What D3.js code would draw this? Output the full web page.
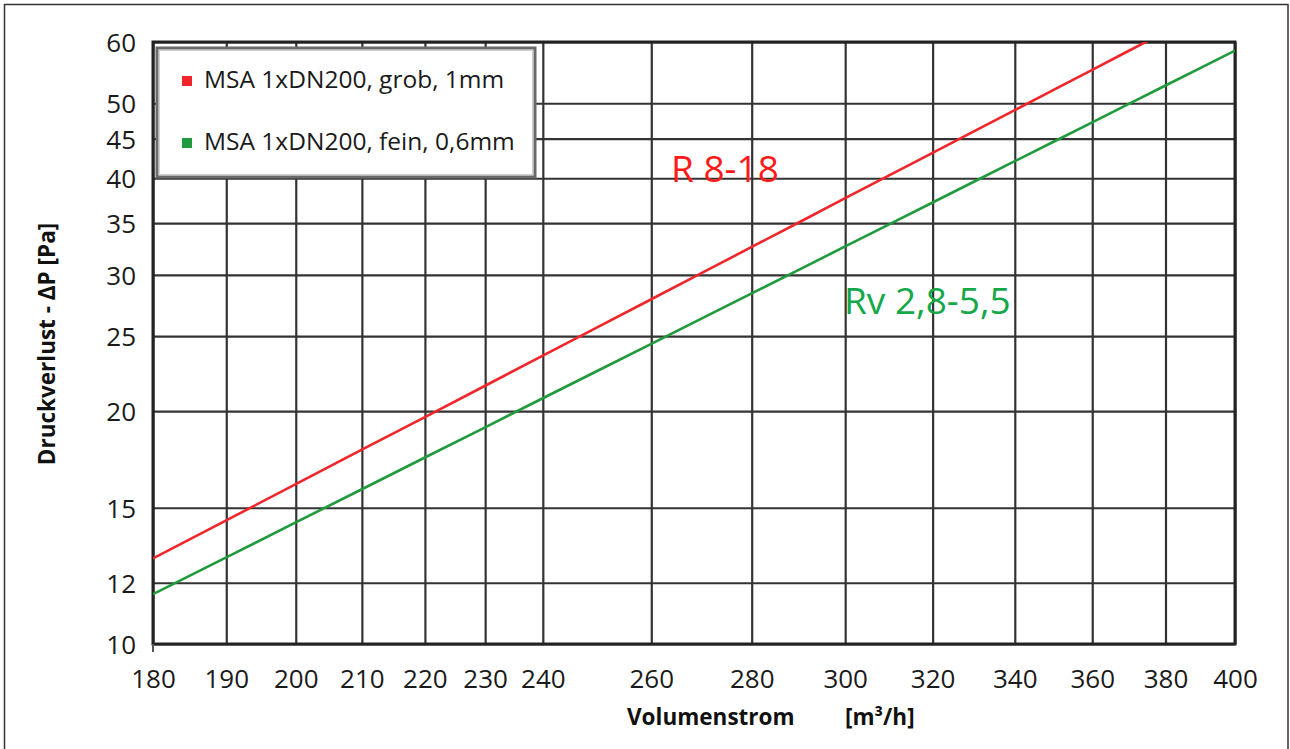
<!DOCTYPE html>
<html>
<head>
<meta charset="utf-8">
<script src="https://cdn.jsdelivr.net/npm/d3@7"></script>
<style>
  html, body { margin: 0; padding: 0; background: #fff; }
  svg { display: block; }
  text { font-family: "Open Sans", "Noto Sans", sans-serif; }
</style>
</head>
<body>
<svg id="chart" width="1290" height="749"></svg>
<script>
// Volume flow ticks [m³/h] and pressure ticks [Pa]
const flowTicks = [180, 190, 200, 210, 220, 230, 240, 260, 280, 300, 320, 340, 360, 380, 400];
const pressureTicks = [10, 12, 15, 20, 25, 30, 35, 40, 45, 50, 60];

// Measured pressure loss, coarse filter (1 mm)
const coarseFlow = [180, 190, 200, 210, 220, 230, 240, 250, 260, 270, 280, 290, 300, 310, 320, 330, 340, 350, 360, 370, 380];
const coarseLoss = [12.9, 14.45, 16.09, 17.83, 19.65, 21.57, 23.59, 25.7, 27.9, 30.2, 32.6, 35.09, 37.69, 40.36, 43.13, 46.01, 48.99, 52.06, 55.23, 58.5, 61.86];

// Measured pressure loss, fine filter (0.6 mm)
const fineFlow = [180, 190, 200, 210, 220, 230, 240, 250, 260, 270, 280, 290, 300, 310, 320, 330, 340, 350, 360, 370, 380, 390, 400];
const fineLoss = [11.6, 12.94, 14.36, 15.85, 17.42, 19.06, 20.78, 22.57, 24.43, 26.38, 28.39, 30.48, 32.65, 34.9, 37.21, 39.61, 42.08, 44.62, 47.24, 49.94, 52.71, 55.56, 58.48];

const seriesNames = ["MSA 1xDN200, grob, 1mm", "MSA 1xDN200, fein, 0,6mm"];
const seriesColors = ["#f0262b", "#1f9a3c"];
const seriesLabels = ["R 8-18", "Rv 2,8-5,5"];

const svg = d3.select("#chart");
const plot = { left: 153, top: 42, right: 1235, bottom: 644 };

const x = d3.scaleLog().domain([180, 400]).range([plot.left, plot.right]);
const y = d3.scaleLog().domain([10, 60]).range([plot.bottom, plot.top]);

// outer frame
svg.append("rect")
  .attr("x", 4.5).attr("y", 4.5).attr("width", 1283.5).attr("height", 760)
  .attr("fill", "none").attr("stroke", "#333").attr("stroke-width", 1.5);

// grid
const grid = svg.append("g");
grid.append("g")
  .attr("transform", `translate(0,${plot.bottom})`)
  .call(d3.axisBottom(x).tickValues(flowTicks).tickSize(-(plot.bottom - plot.top)).tickFormat(""))
  .call(g => g.select(".domain").remove())
  .call(g => g.selectAll("line").attr("stroke", "#333").attr("stroke-width", 2.2));
grid.append("g")
  .attr("transform", `translate(${plot.left},0)`)
  .call(d3.axisLeft(y).tickValues(pressureTicks).tickSize(-(plot.right - plot.left)).tickFormat(""))
  .call(g => g.select(".domain").remove())
  .call(g => g.selectAll("line").attr("stroke", "#333").attr("stroke-width", 2.2));

// tick labels
const xAxis = svg.append("g")
  .attr("transform", `translate(0,${plot.bottom})`)
  .call(d3.axisBottom(x).tickValues(flowTicks).tickSize(0).tickPadding(0).tickFormat(d3.format("d")));
xAxis.select(".domain").remove();
xAxis.selectAll("text")
  .attr("y", 44).attr("dy", null)
  .attr("fill", "#1a1a1a").style("font-size", "26px").style("font-family", "'Open Sans', sans-serif");

const yAxis = svg.append("g")
  .attr("transform", `translate(${plot.left},0)`)
  .call(d3.axisLeft(y).tickValues(pressureTicks).tickSize(0).tickPadding(0).tickFormat(d3.format("d")));
yAxis.select(".domain").remove();
yAxis.selectAll("text")
  .attr("x", -17).attr("dy", "0.36em")
  .attr("fill", "#1a1a1a").style("font-size", "26px").style("font-family", "'Open Sans', sans-serif");

// plot border
svg.append("rect")
  .attr("x", plot.left).attr("y", plot.top)
  .attr("width", plot.right - plot.left).attr("height", plot.bottom - plot.top)
  .attr("fill", "none").attr("stroke", "#222").attr("stroke-width", 3);
svg.append("line")
  .attr("x1", plot.left).attr("x2", plot.left)
  .attr("y1", plot.bottom).attr("y2", plot.bottom + 8)
  .attr("stroke", "#555").attr("stroke-width", 2);

// curves
svg.append("clipPath").attr("id", "plotClip")
  .append("rect")
  .attr("x", plot.left).attr("y", plot.top)
  .attr("width", plot.right - plot.left).attr("height", plot.bottom - plot.top);

const line = d3.line().x(d => x(d[0])).y(d => y(d[1]));
const curves = [
  d3.zip(coarseFlow, coarseLoss),
  d3.zip(fineFlow, fineLoss)
];
svg.append("g").attr("clip-path", "url(#plotClip)")
  .selectAll("path").data(curves).join("path")
  .attr("d", line)
  .attr("fill", "none")
  .attr("stroke", (d, i) => seriesColors[i])
  .attr("stroke-width", 2.6)
  .attr("stroke-linejoin", "round");

// curve labels
svg.append("text")
  .attr("x", 671).attr("y", 182)
  .attr("fill", "#ff1a1a").style("font-size", "37px")
  .text(seriesLabels[0]);
svg.append("text")
  .attr("x", 844).attr("y", 314)
  .attr("fill", "#14a84a").style("font-size", "37px")
  .text(seriesLabels[1]);

// legend
const legend = svg.append("g");
legend.append("rect")
  .attr("x", 157).attr("y", 48).attr("width", 378).attr("height", 129)
  .attr("fill", "#fff").attr("stroke", "#6a6a6a").attr("stroke-width", 3);
legend.append("rect")
  .attr("x", 159.5).attr("y", 50.5).attr("width", 373).attr("height", 124)
  .attr("fill", "none").attr("stroke", "#cfcfcf").attr("stroke-width", 1);
const items = legend.selectAll("g.item").data(seriesNames).join("g")
  .attr("class", "item")
  .attr("transform", (d, i) => `translate(0,${i * 62})`);
items.append("rect")
  .attr("x", 182).attr("y", 76).attr("width", 10).attr("height", 10)
  .attr("fill", (d, i) => seriesColors[i]);
items.append("text")
  .attr("x", 204).attr("y", 88)
  .attr("fill", "#1a1a1a").style("font-size", "24.5px")
  .text(d => d);

// axis titles
svg.append("text")
  .attr("x", 627).attr("y", 725)
  .attr("fill", "#111").style("font-size", "22.5px").style("font-weight", "bold")
  .text("Volumenstrom");
svg.append("text")
  .attr("x", 845).attr("y", 725)
  .attr("fill", "#111").style("font-size", "22.5px").style("font-weight", "bold")
  .text("[m³/h]");
svg.append("text")
  .attr("transform", "translate(55,344) rotate(-90)")
  .attr("text-anchor", "middle")
  .attr("fill", "#111").style("font-size", "22.5px").style("font-weight", "bold")
  .text("Druckverlust - ΔP [Pa]");
</script>
</body>
</html>
